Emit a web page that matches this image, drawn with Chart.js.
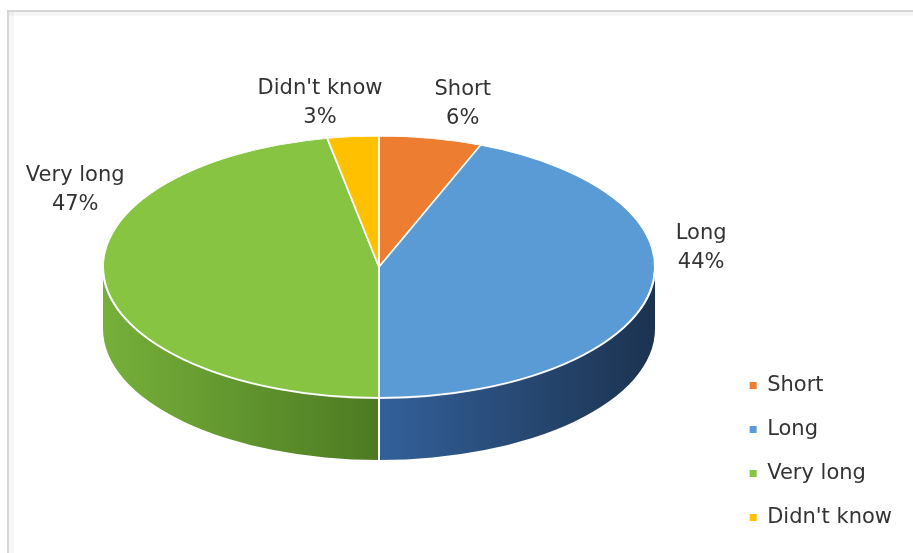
<!DOCTYPE html>
<html>
<head>
<meta charset="utf-8">
<script src="https://cdn.jsdelivr.net/npm/chart.js@4.4.1/dist/chart.umd.min.js"></script>
<style>
  html, body { margin: 0; padding: 0; background: #fff; }
  #wrap { position: relative; width: 913px; height: 553px; }
</style>
</head>
<body>
<div id="wrap"><canvas id="c" width="913" height="553"></canvas></div>
<script>
const categories = ['Short', 'Long', 'Very long', "Didn't know"];
const shares = [6, 44, 47, 3];
const sliceColors = ['#ED7D31', '#5B9BD5', '#86C441', '#FFC000'];
// shaded tones for the rim of each slice, left to right
const sideColors = [
  ['#B45A1E', '#8A4415'],
  ['#33609A', '#1C3350'],
  ['#76B03A', '#4C7A22'],
  ['#C89400', '#9A7200']
];
// offsets of each data label from the rim point at the slice's mid angle
const labelNudges = [[32, -37], [51, -46], [-29, -92], [-33, -36]];

// tilted pie: top-face ellipse centre, radii and rim depth
const PIE = { cx: 379, cy: 267, rx: 276, ry: 131, depth: 62 };
const FONT = '"DejaVu Sans", sans-serif';
const TEXT = '#333333';

const tiltedPie = {
  id: 'tiltedPie',
  beforeDraw(chart) {
    const ctx = chart.ctx;
    ctx.save();
    ctx.fillStyle = '#ffffff';
    ctx.fillRect(0, 0, chart.width, chart.height);
    // panel frame (top and left edges)
    ctx.fillStyle = 'rgba(0,0,0,0.035)';
    ctx.fillRect(7, 12, chart.width, 4);
    ctx.fillRect(9, 10, 5, chart.height);
    ctx.fillStyle = '#d6d6d6';
    ctx.fillRect(7, 10, chart.width, 2);
    ctx.fillRect(7, 10, 2, chart.height);
    ctx.restore();
  },
  beforeDatasetsDraw(chart) {
    const ctx = chart.ctx;
    const arcs = chart.getDatasetMeta(0).data;
    const { cx, cy, rx, ry, depth } = PIE;

    // front rim of every slice that faces the viewer
    arcs.forEach((arc, i) => {
      const { startAngle, endAngle } = arc.getProps(['startAngle', 'endAngle'], true);
      const a = Math.max(startAngle, 0);
      const b = Math.min(endAngle, Math.PI);
      if (b <= a) return;
      const xa = cx + rx * Math.cos(a), xb = cx + rx * Math.cos(b);
      const g = ctx.createLinearGradient(Math.min(xa, xb), 0, Math.max(xa, xb), 0);
      g.addColorStop(0, sideColors[i][0]);
      g.addColorStop(1, sideColors[i][1]);
      ctx.save();
      ctx.fillStyle = g;
      ctx.beginPath();
      ctx.ellipse(cx, cy, rx, ry, 0, a, b);
      ctx.lineTo(cx + rx * Math.cos(b), cy + depth + ry * Math.sin(b));
      ctx.ellipse(cx, cy + depth, rx, ry, 0, b, a, true);
      ctx.closePath();
      ctx.fill();
      ctx.restore();
    });

    // slice separators running down the rim
    ctx.save();
    ctx.strokeStyle = '#ffffff';
    ctx.lineWidth = 2;
    arcs.forEach(arc => {
      const { endAngle } = arc.getProps(['endAngle'], true);
      if (endAngle > 0.01 && endAngle < Math.PI - 0.01) {
        const x = cx + rx * Math.cos(endAngle);
        const y = cy + ry * Math.sin(endAngle);
        ctx.beginPath();
        ctx.moveTo(x, y);
        ctx.lineTo(x, y + depth);
        ctx.stroke();
      }
    });
    ctx.restore();

    // map the library's circular pie onto the tilted top face
    const ref = arcs[0];
    const R0 = ref.outerRadius;
    ctx.save();
    ctx.translate(cx, cy);
    ctx.scale(rx / R0, ry / R0);
    ctx.translate(-ref.x, -ref.y);
  },
  afterDatasetsDraw(chart) {
    const ctx = chart.ctx;
    ctx.restore();
    const arcs = chart.getDatasetMeta(0).data;
    const { cx, cy, rx, ry } = PIE;

    // soft highlight along the front edge of the top face
    ctx.save();
    ctx.strokeStyle = 'rgba(255,255,255,0.8)';
    ctx.lineWidth = 2;
    ctx.beginPath();
    ctx.ellipse(cx, cy, rx, ry, 0, 0, Math.PI);
    ctx.stroke();
    ctx.restore();

    // data labels: category name and share
    ctx.save();
    ctx.font = '21px ' + FONT;
    ctx.fillStyle = TEXT;
    ctx.textAlign = 'center';
    ctx.textBaseline = 'alphabetic';
    arcs.forEach((arc, i) => {
      const { startAngle, endAngle } = arc.getProps(['startAngle', 'endAngle'], true);
      const m = (startAngle + endAngle) / 2;
      const x = cx + rx * Math.cos(m) + labelNudges[i][0];
      const y = cy + ry * Math.sin(m) + labelNudges[i][1];
      ctx.fillText(categories[i], x, y - 14.5 + 7.7);
      ctx.fillText(shares[i] + '%', x, y + 14.5 + 7.7);
    });
    ctx.restore();
  }
};

new Chart(document.getElementById('c'), {
  type: 'pie',
  data: {
    labels: categories,
    datasets: [{
      data: shares,
      backgroundColor: sliceColors,
      borderColor: '#ffffff',
      borderWidth: 1.8
    }]
  },
  options: {
    responsive: false,
    animation: false,
    events: [],
    layout: { padding: { top: 10, right: 11, bottom: 2, left: 10 } },
    plugins: {
      tooltip: { enabled: false },
      legend: {
        position: 'right',
        align: 'end',
        labels: {
          boxWidth: 7,
          boxHeight: 7,
          padding: 23,
          color: TEXT,
          font: { family: FONT, size: 21 },
          generateLabels(chart) {
            const base = Chart.overrides.pie.plugins.legend.labels.generateLabels(chart);
            return base.map(item => Object.assign(item, { lineWidth: 0, strokeStyle: item.fillStyle }));
          }
        }
      }
    }
  },
  plugins: [tiltedPie]
});
</script>
</body>
</html>
